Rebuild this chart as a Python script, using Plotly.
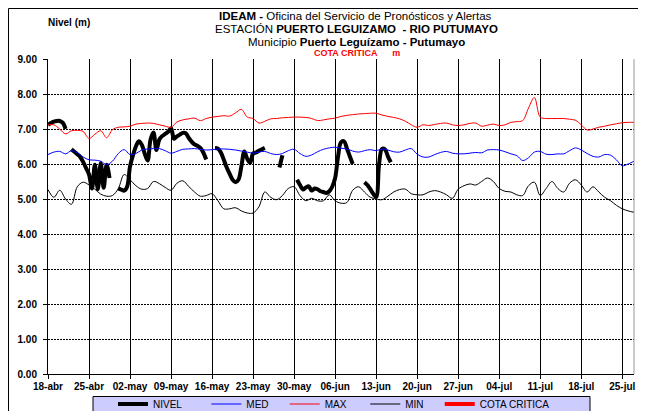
import plotly.graph_objects as go

# ---------------- data ----------------
TICK_LABELS = ["18-abr", "25-abr", "02-may", "09-may", "16-may", "23-may", "30-may",
               "06-jun", "13-jun", "20-jun", "27-jun", "04-jul", "11-jul", "18-jul", "25-jul"]

# daily series, day 0 = 18-abr ... day 100 = 27-jul
MAX = [7.12, 7.12, 7.00, 6.86, 6.95, 6.96, 6.93, 6.73, 6.85, 6.95,
       6.75, 6.98, 7.05, 7.06, 7.08, 7.14, 7.16, 7.17, 7.16, 7.12,
       7.08, 7.05, 7.20, 7.26, 7.29, 7.31, 7.24, 7.30, 7.34, 7.36,
       7.38, 7.37, 7.46, 7.56, 7.34, 7.30, 7.17, 7.22, 7.29, 7.30,
       7.32, 7.33, 7.34, 7.34, 7.33, 7.30, 7.24, 7.26, 7.29, 7.31,
       7.36, 7.39, 7.41, 7.43, 7.44, 7.45, 7.45, 7.40, 7.36, 7.33,
       7.29, 7.22, 7.12, 7.05, 7.12, 7.10, 7.13, 7.16, 7.17, 7.12,
       7.10, 7.12, 7.16, 7.17, 7.08, 7.11, 7.14, 7.10, 7.12, 7.19,
       7.21, 7.24, 7.60, 7.90, 7.34, 7.30, 7.30, 7.30, 7.30, 7.28,
       7.25, 7.12, 6.97, 7.00, 7.05, 7.08, 7.12, 7.15, 7.18, 7.19, 7.19]

MED = [6.27, 6.34, 6.36, 6.29, 6.38, 6.32, 6.20, 6.12, 6.11, 6.08,
       5.98, 6.08, 6.30, 6.41, 6.27, 6.30, 6.40, 6.43, 6.44, 6.44,
       6.38, 6.31, 6.36, 6.42, 6.43, 6.44, 6.42, 6.40, 6.41, 6.43,
       6.43, 6.42, 6.40, 6.37, 6.34, 6.31, 6.34, 6.36, 6.30, 6.27,
       6.30, 6.38, 6.42, 6.30, 6.22, 6.26, 6.35, 6.42, 6.46, 6.48,
       6.45, 6.43, 6.37, 6.34, 6.38, 6.41, 6.38, 6.43, 6.40, 6.35,
       6.34, 6.40, 6.44, 6.28, 6.20, 6.20, 6.27, 6.33, 6.36, 6.31,
       6.29, 6.29, 6.31, 6.33, 6.32, 6.40, 6.41, 6.40, 6.35, 6.29,
       6.24, 6.10, 6.18, 6.34, 6.36, 6.28, 6.27, 6.29, 6.29, 6.38,
       6.46, 6.40, 6.30, 6.22, 6.20, 6.27, 6.25, 6.12, 5.95, 6.00, 6.08]

MIN = [5.27, 5.05, 5.25, 5.00, 4.85, 5.35, 5.48, 5.40, 5.28, 5.14,
       5.08, 5.10, 5.30, 5.70, 5.55, 5.38, 5.28, 5.30, 5.50, 5.44,
       5.33, 5.25, 5.45, 5.52, 5.36, 5.20, 5.08, 5.10, 5.15, 4.95,
       4.72, 4.72, 4.75, 4.66, 4.60, 4.60, 4.78, 5.20, 5.05, 4.98,
       5.10, 5.30, 5.35, 5.10, 4.95, 5.02, 4.95, 4.95, 5.12, 4.95,
       4.88, 4.90, 5.25, 5.35, 5.20, 5.05, 5.00, 4.98, 5.08, 5.20,
       5.27, 5.28, 5.15, 5.12, 5.12, 5.20, 5.24, 5.20, 5.12, 5.02,
       5.28, 5.38, 5.43, 5.40, 5.50, 5.60, 5.50, 5.30, 5.22, 5.20,
       5.12, 5.10, 5.38, 5.48, 5.10, 5.30, 5.50, 5.30, 5.20, 5.45,
       5.55, 5.40, 5.20, 5.35, 5.20, 5.05, 4.95, 4.82, 4.72, 4.66, 4.62]

# observed level, two readings per day starting 18-abr (None = no reading)
NIVEL = [7.12, 7.17, 7.21, 7.23, 7.23, 7.18, 7.00, None,
         6.42, 6.35, 6.28, 6.20, 6.06, 5.88, 5.70, 5.30, 5.98, 5.28, 6.02, 5.32, 5.98, 5.60,
         None, None,
         5.30, 5.27, 5.24, 5.35, 5.93, 6.25, 6.50, 6.65, 6.55, 6.30, 6.10, 6.70, 6.90, 6.40,
         6.70, 6.80, 6.86, 6.92, 7.02, 6.72, 6.79, 6.84, 6.89, 6.88, 6.75, 6.64, 6.56, 6.52,
         6.46, 6.33, 6.13,
         None, None,
         6.46, 6.44, 6.33, 6.12, 5.90, 5.72, 5.55, 5.48, 5.55, 5.93, 6.36, 6.15, 6.03, 6.30,
         6.33, 6.38, 6.42, 6.46,
         None, None, None, None,
         5.90, 6.25,
         None, None, None, None,
         5.55, 5.40, 5.27, 5.33, 5.36, 5.24, 5.30, 5.28, 5.22, 5.20, 5.17, 5.22, 5.35, 5.60,
         6.22, 6.62, 6.65, 6.45, 6.22, 6.00,
         None, None, None,
         5.48, 5.40, 5.28, 5.15, 5.06, 6.00, 6.43, 6.42, 6.22, 6.05]

SERIES_NAMES = ["NIVEL", "MED", "MAX", "MIN", "COTA CRITICA"]

DAYS = list(range(len(MAX)))
NIVEL_T = [i * 0.5 for i in range(len(NIVEL))]
TICK_DAYS = [7 * i for i in range(len(TICK_LABELS))]

# ---------------- layout helpers ----------------
OFF = 8                      # page body margin
W, H = 646 - OFF, 411 - OFF  # figure size so that it fits the window
ML, MR, MT, MB = 40, 12, 51, 37
PW, PH = W - ML - MR, H - MT - MB


def xp(page_x):
    return (page_x - OFF - ML) / PW


def yp(page_y):
    return (H - MB - (page_y - OFF)) / PH


NBSP = "\u00a0"
LEGEND_PAD = [7, 4, 5, 4, 0]   # spacing of legend entries
LEG = [n + NBSP * p for n, p in zip(SERIES_NAMES, LEGEND_PAD)]

FONT = "Arial, Liberation Sans, sans-serif"

fig = go.Figure()
fig.add_trace(go.Scatter(x=NIVEL_T, y=NIVEL, name=LEG[0], mode="lines",
                         line=dict(color="black", width=4, shape="spline"),
                         connectgaps=False))
fig.add_trace(go.Scatter(x=DAYS, y=MED, name=LEG[1], mode="lines",
                         line=dict(color="#0000FF", width=1, shape="spline")))
fig.add_trace(go.Scatter(x=DAYS, y=MAX, name=LEG[2], mode="lines",
                         line=dict(color="#FF0000", width=1, shape="spline")))
fig.add_trace(go.Scatter(x=DAYS, y=MIN, name=LEG[3], mode="lines",
                         line=dict(color="black", width=1, shape="spline")))
fig.add_trace(go.Scatter(x=DAYS, y=[None] * len(DAYS), name=LEG[4], mode="lines",
                         line=dict(color="#FF0000", width=4)))

shapes = [
    # outer frame
    dict(type="rect", xref="paper", yref="paper", x0=xp(8.5), x1=xp(641), y0=yp(430), y1=yp(8.5),
         line=dict(color="black", width=1), fillcolor="rgba(0,0,0,0)", layer="below"),
    # legend box
    dict(type="rect", xref="paper", yref="paper", x0=xp(93), x1=xp(590), y0=yp(412), y1=yp(396.5),
         line=dict(color="black", width=1), fillcolor="#CCCCFF", layer="below"),
    # right border of plot
    dict(type="line", xref="paper", yref="paper", x0=1, x1=1, y0=0, y1=1,
         line=dict(color="#999999", width=1)),
]


def label(text, x, y, size, color="black"):
    return dict(text=text, x=xp(x), y=yp(y), xref="paper", yref="paper",
                xanchor="center", yanchor="middle", showarrow=False,
                font=dict(size=size, color=color, family=FONT))


annotations = [
    label("<b>Nivel (m)</b>", 69, 23, 10),
    label("<b>IDEAM -</b> Oficina del Servicio de Pronósticos y Alertas", 355, 16, 11.5),
    label("ESTACIÓN <b>PUERTO LEGUIZAMO  - RIO PUTUMAYO</b>", 356, 29, 11.5),
    label("Municipio <b>Puerto Leguízamo - Putumayo</b>", 356, 42, 11.5),
    label("<b>COTA CRÍTICA      m</b>", 357, 53, 9, "#FF0000"),
]

fig.update_layout(
    width=W, height=H,
    margin=dict(l=ML, r=MR, t=MT, b=MB, pad=0, autoexpand=False),
    paper_bgcolor="white", plot_bgcolor="white",
    font=dict(family=FONT, color="black", size=10),
    shapes=shapes, annotations=annotations,
    showlegend=True,
    legend=dict(orientation="h", x=xp(113), xanchor="left", y=yp(404), yanchor="middle",
                bgcolor="rgba(0,0,0,0)", borderwidth=0, font=dict(size=10, family=FONT),
                itemwidth=30, tracegroupgap=0),
    xaxis=dict(range=[0, 100], tickmode="array", tickvals=TICK_DAYS, ticktext=TICK_LABELS,
               showgrid=True, gridcolor="black", gridwidth=1, zeroline=False,
               showline=True, linecolor="black", linewidth=1,
               ticks="outside", ticklen=4, tickcolor="black", ticklabelstandoff=-1,
               tickfont=dict(size=10, family=FONT, weight="bold")),
    yaxis=dict(range=[0, 9], dtick=1, tickformat=".2f",
               showgrid=True, gridcolor="black", gridwidth=1, griddash="2px,1px",
               zeroline=False, showline=True, linecolor="black", linewidth=1,
               ticks="outside", ticklen=4, tickcolor="black", ticklabelstandoff=4,
               tickfont=dict(size=10, family=FONT, weight="bold")),
)

fig.write_html("out.html")
